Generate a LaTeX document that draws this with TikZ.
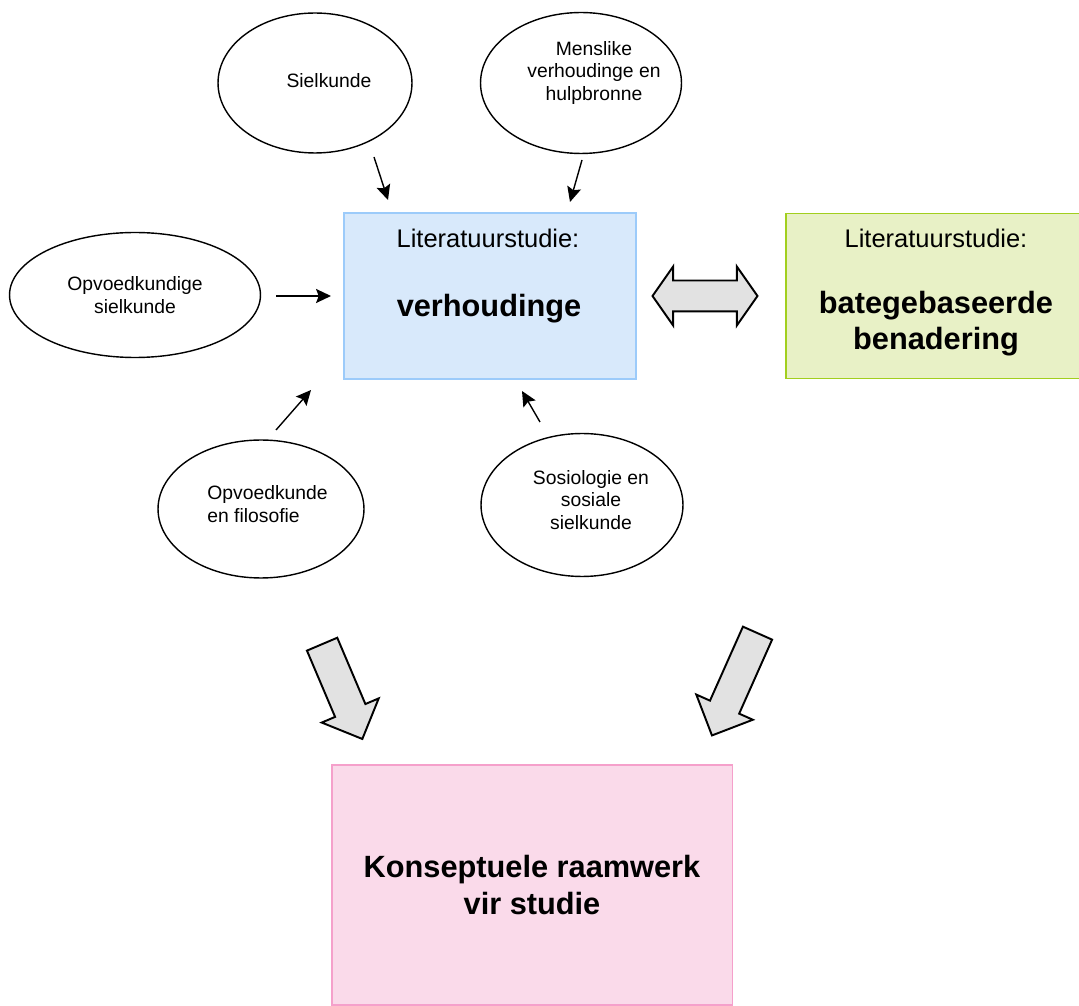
\documentclass[tikz,border=0pt]{standalone}
\usepackage{fontspec}
\setmainfont{Liberation Sans}
\usetikzlibrary{shapes.geometric,shapes.arrows,arrows.meta}
\tikzset{>={Stealth[length=8.5pt,width=8pt,inset=1.5pt]}}
\definecolor{litblue}{HTML}{D8E9FB}
\definecolor{litblueline}{HTML}{9CCBFA}
\definecolor{litgreen}{HTML}{E8F1C6}
\definecolor{litgreenline}{HTML}{A2CF1E}
\definecolor{raampink}{HTML}{FADAEA}
\definecolor{raampinkline}{HTML}{F5A0CB}
\definecolor{blockgray}{HTML}{E2E2E2}

\begin{document}
\begin{tikzpicture}[x=0.02cm,y=-0.02cm,
    bubble/.style={draw,thick,ellipse,inner sep=0pt},
    bubbletext/.style={inner sep=0pt,align=center,font=\fontsize{11}{12.8}\selectfont},
    box/.style={draw,line width=1.1pt,rectangle,inner sep=0pt},
    titletext/.style={inner sep=0pt,font=\fontsize{14.5}{17}\selectfont},
    bigtext/.style={inner sep=0pt,align=center,font=\fontsize{17.5}{20.5}\selectfont\bfseries},
    blockarrow/.style={draw,line width=1.1pt,fill=blockgray,inner xsep=0pt}]
      \useasboundingbox (0,0) rectangle (1079,1006);
      % the five fields round the study
      \node[bubble,minimum width=3.88cm,minimum height=2.8cm] (siel) at (315,83) {};
      \node[bubbletext] (siel-t) at (329,81) {Sielkunde};
      \node[bubble,minimum width=4.02cm,minimum height=2.82cm] (mens) at (581,83) {};
      \node[bubbletext] (mens-t) at (594,73) {Menslike\\verhoudinge en\\hulpbronne};
      \node[bubble,minimum width=5.02cm,minimum height=2.5cm] (opsiel) at (135,295) {};
      \node[bubbletext] (opsiel-t) at (135,295) {Opvoedkundige\\sielkunde};
      \node[bubble,minimum width=4.12cm,minimum height=2.76cm] (opfil) at (261,509) {};
      \node[bubbletext,align=left,anchor=west] (opfil-t) at (207,504) {Opvoedkunde\\en filosofie};
      \node[bubble,minimum width=4.04cm,minimum height=2.86cm] (sosio) at (582,505) {};
      \node[bubbletext] (sosio-t) at (591,500) {Sosiologie en\\sosiale\\sielkunde};
      % the literature boxes
      \node[box,draw=litblueline,fill=litblue,minimum width=5.84cm,minimum height=3.32cm] (verh) at (490,296) {};
      \node[titletext,anchor=base] (verh-t) at (488,248) {Literatuurstudie:};
      \node[bigtext,anchor=base] (verh-b) at (489,317) {verhoudinge};
      \node[box,draw=litgreenline,fill=litgreen,minimum width=5.96cm,minimum height=3.3cm] (bate) at (935,296) {};
      \node[titletext,anchor=base] (bate-t) at (936,248) {Literatuurstudie:};
      \node[bigtext] (bate-b) at (936,324) {bategebaseerde\\benadering};
      \node[box,draw=raampinkline,fill=raampink,minimum width=8.02cm,minimum height=4.8cm,
            bigtext,draw,line width=1.1pt] (raam) at (532,885) {Konseptuele raamwerk\\vir studie};
      % block arrows
      \node[blockarrow,double arrow,double arrow tip angle=110,double arrow head extend=0.28cm,
            inner ysep=0.29cm,minimum height=2.1cm] (tweeweg) at (705,296) {};
      \node[blockarrow,single arrow,single arrow head extend=0.29cm,rotate=-67,
            inner ysep=0.31cm,minimum height=2.06cm] (pyl-l) at (339,684) {};
      \node[blockarrow,single arrow,single arrow head extend=0.3cm,rotate=-114,
            inner ysep=0.3cm,minimum height=2.24cm] (pyl-r) at (738,677) {};
      % small arrows into the box
      \coordinate (a1) at (374,157); \coordinate (b1) at (388,200);
      \coordinate (a2) at (582,160); \coordinate (b2) at (570,202);
      \coordinate (a3) at (276,296); \coordinate (b3) at (331,296);
      \coordinate (a4) at (276,430); \coordinate (b4) at (311,390);
      \coordinate (a5) at (540,422); \coordinate (b5) at (522,391);
      \draw[->,thick] (a1) -- (b1);
      \draw[->,thick] (a2) -- (b2);
      \draw[->,thick] (a3) -- (b3);
      \draw[->,thick] (a4) -- (b4);
      \draw[->,thick] (a5) -- (b5);
\end{tikzpicture}
\end{document}
